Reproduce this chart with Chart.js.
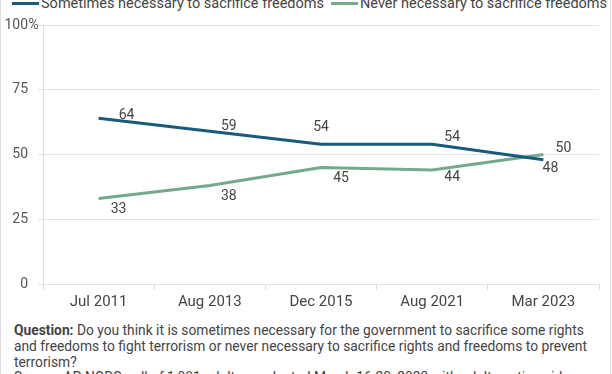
<!DOCTYPE html>
<html><head><meta charset="utf-8">
<script src="https://cdn.jsdelivr.net/npm/chart.js@4"></script>
<style>
html,body{margin:0;padding:0;background:#fff;}
#wrap{position:relative;width:612px;height:374px;overflow:hidden;font-family:Roboto,sans-serif;color:#444;}
.vb{position:absolute;top:0;width:1px;height:374px;background:#ddd;}
#legend{position:absolute;top:-5px;left:0;width:612px;height:17px;font-size:14.5px;line-height:17px;white-space:nowrap;}
.item{position:absolute;top:0;}
.sw{display:inline-block;width:27px;height:3px;vertical-align:middle;margin-right:2px;position:relative;top:-1px;}
canvas{position:absolute;left:0;top:0;}
#note{position:absolute;left:14px;top:323px;font-size:13.8px;line-height:15.8px;white-space:nowrap;}
</style></head>
<body>
<div id="wrap">
  <div class="vb" style="left:0"></div>
  <div class="vb" style="left:610px"></div>
  <div id="legend">
    <span class="item" style="left:12px"><span class="sw" style="background:#175a7c"></span>Sometimes necessary to sacrifice freedoms</span>
    <span class="item" style="left:331px"><span class="sw" style="background:#74a98b"></span>Never necessary to sacrifice freedoms</span>
  </div>
  <canvas id="c" width="612" height="318"></canvas>
  <div id="note"><b>Question:</b> Do you think it is sometimes necessary for the government to sacrifice some rights<br>and freedoms to fight terrorism or never necessary to sacrifice rights and freedoms to prevent<br>terrorism?<br>Source: AP-NORC poll of 1,081 adults conducted March 16-20, 2023 with adults nationwide</div>
</div>
<script>
const categories = ["Jul 2011", "Aug 2013", "Dec 2015", "Aug 2021", "Mar 2023"];
const sometimesValues = [64, 59, 54, 54, 48];
const neverValues = [33, 38, 45, 44, 50];
const seriesNames = ["Sometimes necessary to sacrifice freedoms", "Never necessary to sacrifice freedoms"];
const yTicks = [0, 25, 50, 75, 100];

const labelPlugin = {
  id: 'pointLabels',
  afterDatasetsDraw(chart, args, opts) {
    const ctx = chart.ctx;
    ctx.save();
    ctx.font = '14px Roboto, sans-serif';
    ctx.fillStyle = '#444';
    ctx.textAlign = 'center';
    ctx.textBaseline = 'middle';
    chart.data.datasets.forEach((ds, di) => {
      const meta = chart.getDatasetMeta(di);
      const offs = opts.offsets[di];
      meta.data.forEach((pt, i) => {
        ctx.fillText(String(ds.data[i]), pt.x + offs[i][0], pt.y + offs[i][1]);
      });
    });
    const y = chart.scales.y;
    const py = y.getPixelForValue(100);
    ctx.textAlign = 'left';
    ctx.fillStyle = '#555';
    ctx.fillText('%', y.right - 15 + 0.5, py);
    ctx.restore();
  }
};

new Chart(document.getElementById('c'), {
  type: 'line',
  data: {
    labels: categories,
    datasets: [
      { label: seriesNames[0], data: sometimesValues, borderColor: '#175a7c', backgroundColor: '#175a7c', borderWidth: 3, pointRadius: 0, tension: 0 },
      { label: seriesNames[1], data: neverValues, borderColor: '#74a98b', backgroundColor: '#74a98b', borderWidth: 3, pointRadius: 0, tension: 0 }
    ]
  },
  options: {
    responsive: false,
    animation: false,
    devicePixelRatio: 1,
    layout: { padding: { top: 25, right: 13, left: 0, bottom: 0 } },
    plugins: {
      legend: { display: false },
      tooltip: { enabled: false },
      pointLabels: {
        offsets: [
          [[28, -3], [19, -5], [0, -17], [20, -7], [7, 9]],
          [[20, 11], [19, 11], [20, 11], [20, 7], [20, -6]]
        ]
      }
    },
    scales: {
      x: {
        offset: true,
        grid: { drawOnChartArea: false, drawTicks: true, tickLength: 6, color: '#ddd', offset: true },
        border: { color: '#e3e3e3' },
        ticks: { color: '#444', font: { size: 15, family: 'Roboto' }, padding: 3, maxRotation: 0 },
        afterFit: s => { s.height = 34; }
      },
      y: {
        min: 0, max: 100,
        afterBuildTicks: s => { s.ticks = yTicks.map(v => ({ value: v })); },
        grid: { color: '#e3e3e3', tickLength: 5 },
        border: { color: '#ddd' },
        ticks: { color: '#555', font: { size: 14, family: 'Roboto' }, padding: 10, callback: v => String(v) },
        afterFit: s => { s.width = 43; }
      }
    }
  },
  plugins: [labelPlugin]
});
</script>
</body></html>
